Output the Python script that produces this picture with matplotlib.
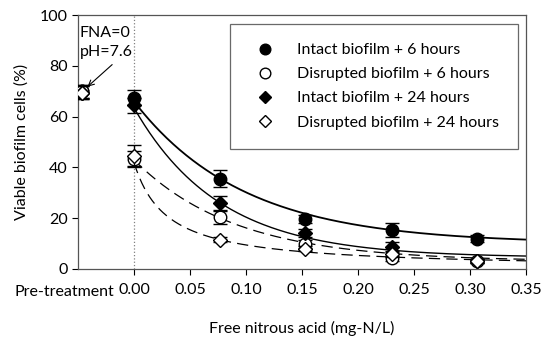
import numpy as np
import matplotlib
matplotlib.use("Agg")
import matplotlib.pyplot as plt

plt.rcParams['font.family'] = ['Lato', 'DejaVu Sans']

# FNA doses (mg-N/L); pre-treatment sample sits left of zero
pre_x = -0.0465
fna = [0.0, 0.077, 0.153, 0.23, 0.306]

# viable cells (%), pre-treatment value first
intact_6h = [70, 67.5, 35.6, 19.8, 15.4, 12.0]
intact_6h_err = [2.5, 3.0, 3.5, 1.5, 2.7, 1.5]
disrupt_6h = [70, 43.5, 20.3, 9.9, 4.3, 3.3]
disrupt_6h_err = [2.5, 3.0, 2.5, 1.5, 1.0, 0.8]
intact_24h = [69.5, 64.5, 26.0, 14.2, 8.8, 3.3]
intact_24h_err = [2.5, 3.0, 2.7, 1.5, 2.0, 0.8]
disrupt_24h = [69.5, 44.5, 11.5, 7.9, 5.9, 3.3]
disrupt_24h_err = [2.5, 4.5, 1.0, 1.0, 1.0, 0.8]

# fitted decay curves: c + a*exp(-k*x)  (last one hyperbolic c + a/(1+k*x))
fit_intact_6h = (10.0, 56.0, 10.2)
fit_intact_24h = (4.5, 59.0, 13.1)
fit_disrupt_6h = (3.0, 40.0, 11.1)
fit_disrupt_24h = (0.0, 42.0, 34.4)

fig = plt.figure(figsize=(5.44, 3.39), dpi=100)
ax = fig.add_axes([0.1434, 0.2065, 0.8235, 0.749])

xs = [pre_x] + fna
xx = np.linspace(0, 0.35, 300)

def expfit(p):
    return p[0] + p[1] * np.exp(-p[2] * xx)

ax.plot(xx, expfit(fit_intact_6h), color='black', lw=1.3, zorder=2)
ax.plot(xx, expfit(fit_intact_24h), color='black', lw=1.0, zorder=2)
ax.plot(xx, expfit(fit_disrupt_6h), color='black', lw=0.9, ls=(0, (9, 5)), zorder=2)
ax.plot(xx, fit_disrupt_24h[0] + fit_disrupt_24h[1] / (1 + fit_disrupt_24h[2] * xx),
        color='black', lw=0.9, ls=(0, (9, 5)), zorder=2)

ax.axvline(0, color='gray', ls=':', lw=0.9, zorder=1)

series = [
    (intact_6h, intact_6h_err, 'o', 'black', 'Intact biofilm + 6 hours', 9),
    (disrupt_6h, disrupt_6h_err, 'o', 'white', 'Disrupted biofilm + 6 hours', 9),
    (intact_24h, intact_24h_err, 'D', 'black', 'Intact biofilm + 24 hours', 7.5),
    (disrupt_24h, disrupt_24h_err, 'D', 'white', 'Disrupted biofilm + 24 hours', 7.5),
]
for i, (y, e, m, fc, lab, ms) in enumerate(series):
    ax.errorbar(xs, y, yerr=e, fmt='none', ecolor='black', elinewidth=1.0,
                capsize=5, capthick=1.0, zorder=3 + i)
    ax.plot(xs, y, ls='none', marker=m, ms=ms, mfc=fc, mec='black', mew=1.0,
            label=lab, zorder=4 + i)

ax.set_xlim(-0.05, 0.35)
ax.set_ylim(0, 100)
ax.set_xticks([0, 0.05, 0.1, 0.15, 0.2, 0.25, 0.3, 0.35])
ax.set_xticklabels(['0.00', '0.05', '0.10', '0.15', '0.20', '0.25', '0.30', '0.35'])
ax.set_yticks([0, 20, 40, 60, 80, 100])
ax.tick_params(labelsize=11.5, length=4, direction='out', width=0.8)
ax.tick_params(axis='x', pad=6)
for s in ax.spines.values():
    s.set_color('#555555')
    s.set_linewidth(0.9)

ax.text(-0.018, -0.09, 'Pre-treatment', transform=ax.get_xaxis_transform(),
        ha='right', va='center', fontsize=11.5)

ax.set_xlabel('Free nitrous acid (mg-N/L)', fontsize=11.5, labelpad=17)
ax.set_ylabel('Viable biofilm cells (%)', fontsize=11.5, labelpad=8)

ax.text(-0.0485, 89.2, 'FNA=0\npH=7.6', fontsize=11.5, ha='left', va='center',
        linespacing=1.45)
ax.annotate('', xy=(-0.0415, 71.8), xytext=(-0.0195, 80.5),
            arrowprops=dict(arrowstyle='->', color='black', lw=0.8,
                            shrinkA=0, shrinkB=0))

leg = ax.legend(loc='upper right', bbox_to_anchor=(0.982, 0.965), borderaxespad=0,
                fontsize=11.5, frameon=True, fancybox=False, edgecolor='#444444',
                borderpad=1.2, handletextpad=1.0, labelspacing=0.62, markerscale=0.85)
leg.get_frame().set_linewidth(0.9)

fig.savefig('out.png', dpi=100)
